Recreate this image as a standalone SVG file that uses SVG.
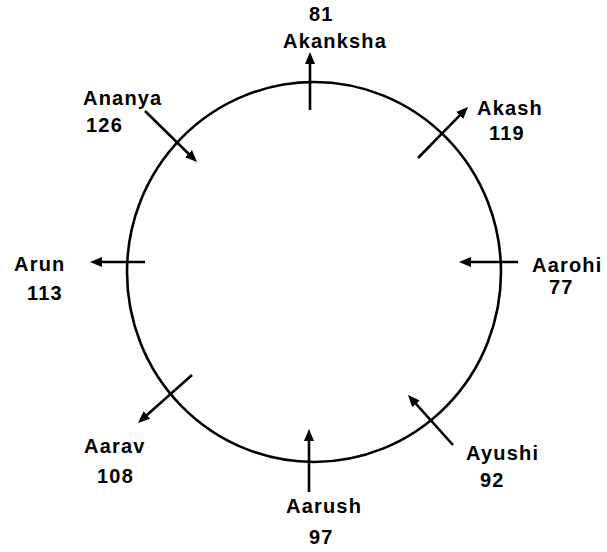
<svg xmlns="http://www.w3.org/2000/svg" width="607" height="552" viewBox="0 0 607 552">
<style>
.lbl{font-family:"Liberation Sans",Arial,sans-serif;font-weight:bold;font-size:20px;letter-spacing:1.2px;fill:#000}
.ln{stroke:#000;stroke-width:2.6;fill:none}
</style>
<defs>
<marker id="ah" viewBox="0 0 12 12" refX="3" refY="6" markerWidth="12" markerHeight="12" markerUnits="userSpaceOnUse" orient="auto">
<path d="M0,1 L12,6 L0,11 z" fill="#000"/>
</marker>
</defs>
<rect width="607" height="552" fill="#fff"/>
<g id="circle"><ellipse cx="314" cy="272" rx="187" ry="190" class="ln"/></g>
<g id="connectors">
<line class="ln" x1="310" y1="110" x2="310" y2="61" marker-end="url(#ah)"/>
<line class="ln" x1="418" y1="158" x2="461.7" y2="113.4" marker-end="url(#ah)"/>
<line class="ln" x1="145" y1="111" x2="190.6" y2="155.7" marker-end="url(#ah)"/>
<line class="ln" x1="145" y1="262" x2="99" y2="262" marker-end="url(#ah)"/>
<line class="ln" x1="518" y1="262" x2="468" y2="262" marker-end="url(#ah)"/>
<line class="ln" x1="192" y1="375" x2="144.7" y2="417" marker-end="url(#ah)"/>
<line class="ln" x1="453" y1="445" x2="414" y2="401.7" marker-end="url(#ah)"/>
<line class="ln" x1="309" y1="492" x2="309" y2="438" marker-end="url(#ah)"/>
</g>
<g id="akanksha"><text class="lbl" x="309" y="21">81</text><text class="lbl" x="283" y="48">Akanksha</text></g>
<g id="akash"><text class="lbl" x="477" y="115">Akash</text><text class="lbl" x="489" y="140">119</text></g>
<g id="ananya"><text class="lbl" x="83" y="105">Ananya</text><text class="lbl" x="86" y="132">126</text></g>
<g id="arun"><text class="lbl" x="14" y="271">Arun</text><text class="lbl" x="27" y="300">113</text></g>
<g id="aarohi"><text class="lbl" x="532" y="272">Aarohi</text><text class="lbl" x="549" y="294">77</text></g>
<g id="aarav"><text class="lbl" x="84" y="453">Aarav</text><text class="lbl" x="97" y="483">108</text></g>
<g id="ayushi"><text class="lbl" x="466" y="460">Ayushi</text><text class="lbl" x="480" y="487">92</text></g>
<g id="aarush"><text class="lbl" x="286" y="513">Aarush</text><text class="lbl" x="309" y="544">97</text></g>
</svg>
